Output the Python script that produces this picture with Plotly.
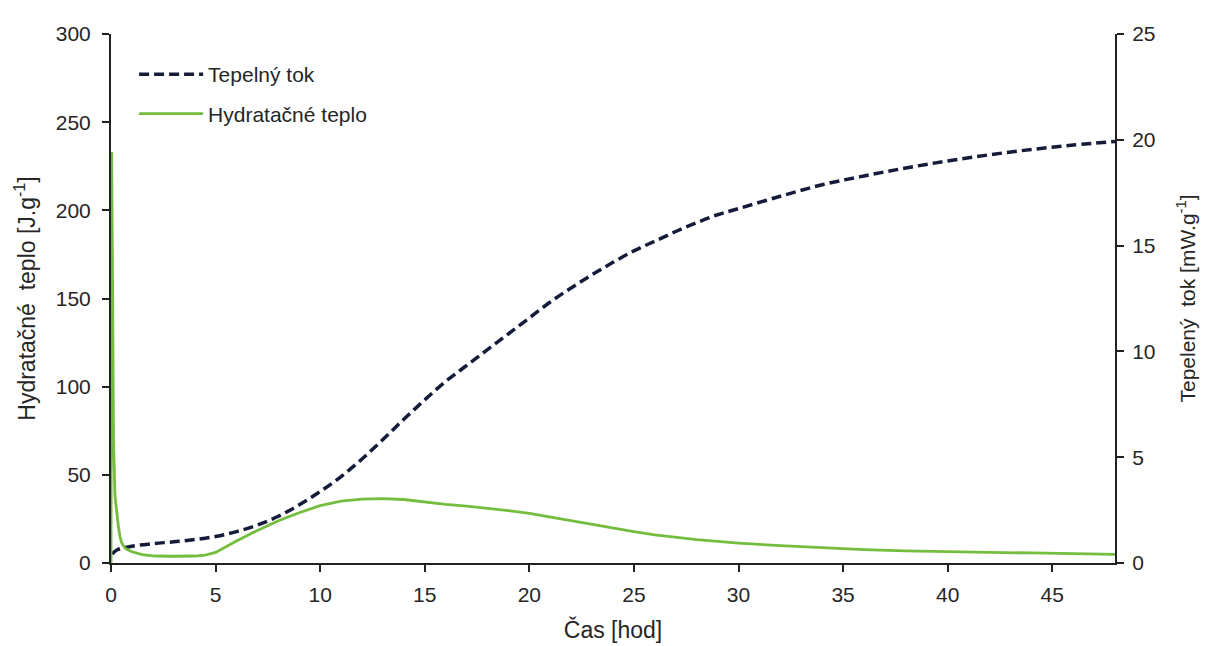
import plotly.graph_objects as go

# Tepelný tok (dashed, left axis, J/g)
t_dash = [0.05, 0.3, 1, 2, 3, 4, 5, 6, 7, 8, 9, 10, 11, 12, 13, 14, 15, 16, 17, 18, 19, 20,
          21, 22, 23, 24, 25, 26, 27, 28, 29, 30, 32, 34, 36, 38, 40, 42, 44, 46, 48]
v_dash = [5, 7.5, 9.5, 11, 12, 13.3, 15, 17.8, 21.5, 26.5, 33, 40.5, 49, 59, 70, 81.5, 92.5,
          103, 112, 121, 130, 139, 148, 156, 163.5, 170.5, 177, 182.5, 188, 193, 197.5, 201,
          208, 214.5, 219.5, 224, 228, 231.5, 234.5, 237, 239]

# Hydratačné teplo (solid green, right axis, mW/g)
t_green = [0.0, 0.03, 0.08, 0.12, 0.19, 0.27, 0.35, 0.43, 0.5, 0.6, 0.7, 0.85, 1.0, 1.5, 2.1,
           3, 4, 4.5, 5, 6, 7, 8, 9, 10, 11, 12, 13, 14, 15, 16, 17, 18, 19, 20, 21, 22, 23,
           24, 25, 26, 27, 28, 29, 30, 32, 34, 36, 38, 40, 42, 44, 46, 48]
v_green = [0.0, 19.42, 12.5, 5.83, 3.17, 2.3, 1.75, 1.25, 0.98, 0.8, 0.68, 0.6, 0.53, 0.40,
           0.33, 0.32, 0.33, 0.375, 0.5, 1.04, 1.54, 2.0, 2.375, 2.71, 2.92, 3.02, 3.04, 3.0,
           2.875, 2.77, 2.69, 2.6, 2.48, 2.35, 2.17, 2.0, 1.82, 1.64, 1.48, 1.33, 1.21, 1.1,
           1.02, 0.94, 0.82, 0.72, 0.63, 0.575, 0.53, 0.5, 0.475, 0.44, 0.41]

x_ticks = [0, 5, 10, 15, 20, 25, 30, 35, 40, 45]
y_ticks = [0, 50, 100, 150, 200, 250, 300]
y2_ticks = [0, 5, 10, 15, 20, 25]

FONT = "Liberation Sans, Arial, sans-serif"
TXT = "#262626"

fig = go.Figure()
fig.add_trace(go.Scatter(x=t_dash, y=v_dash, mode="lines", name="Tepelný tok",
                         legendgroup="a",
                         line=dict(color="#141c3a", width=3.5, dash="10px,5px", shape="spline")))
fig.add_trace(go.Scatter(x=t_green, y=v_green, mode="lines", name="Hydratačné teplo",
                         legendgroup="b", yaxis="y2",
                         line=dict(color="#74bd3e", width=2.8)))

axis_common = dict(showgrid=False, zeroline=False, showline=True, linecolor="#222",
                   linewidth=2, ticks="outside", ticklen=7, tickwidth=2, tickcolor="#222",
                   automargin=False,
                   tickfont=dict(family=FONT, size=21, color=TXT))

fig.update_layout(
    width=1200, height=638,
    margin=dict(l=103, r=93, t=26, b=83),
    paper_bgcolor="white", plot_bgcolor="white",
    font=dict(family=FONT, size=21, color=TXT),
    xaxis=dict(range=[0, 48], tickvals=x_ticks, ticklabelstandoff=5,
               title=dict(text="Čas [hod]", font=dict(family=FONT, size=23, color=TXT), standoff=17),
               **axis_common),
    yaxis=dict(range=[0, 300], tickvals=y_ticks, ticklabelstandoff=7,
               title=dict(text="Hydratačné  teplo [J.g<sup>-1</sup>]", font=dict(family=FONT, size=23, color=TXT), standoff=14),
               **axis_common),
    yaxis2=dict(range=[0, 25], tickvals=y2_ticks, overlaying="y", side="right", ticklabelstandoff=4,
                title=dict(text="Tepelený  tok [mW.g<sup>-1</sup>]", font=dict(family=FONT, size=21, color=TXT), standoff=26),
                **axis_common),
    legend=dict(x=0.023, y=0.962, xanchor="left", yanchor="top", bgcolor="rgba(0,0,0,0)",
                font=dict(family=FONT, size=21, color=TXT), itemwidth=64,
                tracegroupgap=9, traceorder="grouped"),
    showlegend=True,
)

fig.write_html("out.html")
